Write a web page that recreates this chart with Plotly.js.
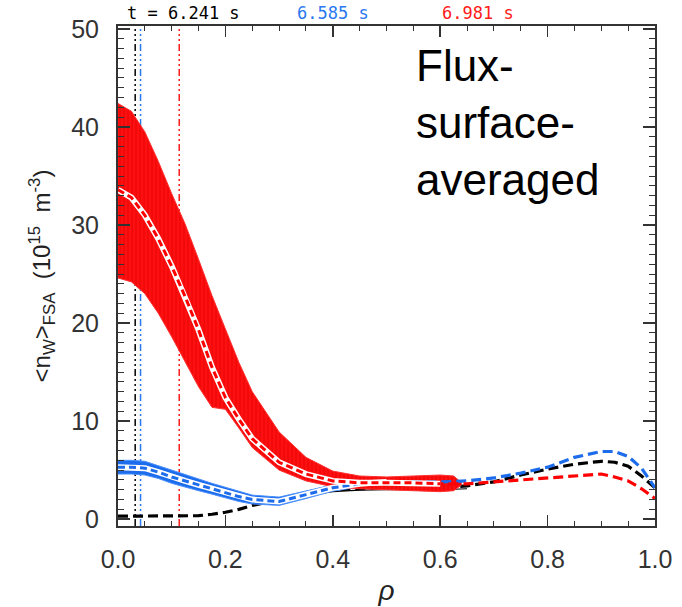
<!DOCTYPE html>
<html>
<head>
<meta charset="utf-8">
<script src="https://cdn.plot.ly/plotly-3.0.1.min.js"></script>
<style>html,body{margin:0;padding:0;background:#fff;}#chart{width:682px;height:607px;}</style>
</head>
<body>
<div id="chart"></div>
<script>
// ---- data ----
const rho = [0, 0.025, 0.05, 0.075, 0.1, 0.125, 0.15, 0.175, 0.2, 0.225, 0.25, 0.3, 0.35, 0.4, 0.45, 0.5, 0.55, 0.6, 0.65, 0.7, 0.75, 0.8, 0.85, 0.9, 0.925, 0.95, 0.975, 1.0];
const redMean   = [33.6, 32.8, 31.0, 28.6, 25.8, 22.7, 19.3, 15.5, 12.4, 10.2, 8.2, 5.8, 4.6, 3.9, 3.7, 3.7, 3.7, 3.6, 3.6, 3.8, 4.0, 4.2, 4.4, 4.6, 4.3, 3.9, 3.1, 2.1];
const blueMean  = [5.3, 5.3, 5.2, 4.8, 4.3, 3.9, 3.5, 3.1, 2.7, 2.3, 2.0, 1.8, 2.5, 3.2, 3.6, 3.8, 3.8, 3.8, 3.9, 4.2, 4.7, 5.3, 6.3, 6.9, 6.9, 6.4, 5.2, 3.2];
const blackMean = [0.3, 0.3, 0.3, 0.3, 0.3, 0.3, 0.35, 0.5, 0.7, 1.0, 1.4, 2.0, 2.6, 3.0, 3.1, 3.2, 3.2, 3.2, 3.4, 3.8, 4.5, 5.1, 5.6, 5.9, 5.8, 5.4, 4.4, 3.2];

const rhoRedBand = [0, 0.025, 0.05, 0.075, 0.1, 0.125, 0.15, 0.175, 0.2, 0.225, 0.25, 0.3, 0.35, 0.4, 0.45, 0.5, 0.55, 0.6, 0.625, 0.64];
const redUpper   = [42.4, 41.6, 39.5, 36.5, 33.2, 30.1, 26.5, 22.8, 19.4, 16.0, 13.0, 8.9, 6.3, 4.9, 4.4, 4.3, 4.4, 4.5, 4.4, 3.7];
const redLower   = [24.6, 24.2, 23.0, 21.0, 18.6, 16.0, 13.5, 11.4, 11.2, 9.3, 7.3, 5.0, 3.9, 3.3, 3.1, 3.0, 2.9, 2.8, 2.9, 3.5];

const rhoBlueBand = [0, 0.025, 0.05, 0.075, 0.1, 0.125, 0.15, 0.175, 0.2, 0.225, 0.25, 0.3, 0.35, 0.4, 0.45, 0.5];
const blueUpper   = [6.0, 6.0, 5.9, 5.45, 4.95, 4.5, 4.1, 3.65, 3.25, 2.85, 2.45, 2.25, 2.85, 3.5, 3.85, 4.0];
const blueLower   = [4.6, 4.6, 4.5, 4.15, 3.65, 3.25, 2.9, 2.55, 2.15, 1.8, 1.55, 1.4, 2.1, 2.85, 3.3, 3.55];

const rhoBlackBand = [0.3, 0.35, 0.4, 0.45, 0.5, 0.55, 0.6, 0.65];
const blackLower   = [1.8, 2.4, 2.8, 2.95, 3.0, 3.0, 3.0, 3.1];

const timeLabels = ['t = 6.241 s', '6.585 s', '6.981 s'];
const timeRho    = [0.032, 0.042, 0.114];
const timeColors = ['#000000', '#2a78f0', '#ff1a1a'];
const timeLabelX = [0.013, 0.33, 0.6];

const yTicks = [0, 10, 20, 30, 40, 50];
const xTicks = [0, 0.2, 0.4, 0.6, 0.8, 1.0];
const xTickText = ['0.0', '0.2', '0.4', '0.6', '0.8', '1.0'];

const BLUE = '#1c6cec', RED = '#ff0000';
const DASH = '10px,5px';
const DASH_IN = '7px,4px';

function inBand(xs, ys, xmax) {
  const ox = [], oy = [];
  for (let i = 0; i < xs.length; i++) if (xs[i] <= xmax) { ox.push(xs[i]); oy.push(ys[i]); }
  return [ox, oy];
}
const [rBx, rBy] = inBand(rho, redMean, rhoRedBand[rhoRedBand.length - 1]);
const [bBx, bBy] = inBand(rho, blueMean, rhoBlueBand[rhoBlueBand.length - 1]);

const base = {type: 'scatter', mode: 'lines', hoverinfo: 'skip', showlegend: false};
const traces = [
  Object.assign({}, base, {x: rhoBlackBand, y: blackLower, line: {color: '#000', width: 1.2}}),
  Object.assign({}, base, {x: rho, y: blackMean, line: {color: '#000', width: 3.2, dash: DASH}}),
  Object.assign({}, base, {x: rhoBlueBand, y: blueLower, line: {color: '#4a90ff', width: 1}}),
  Object.assign({}, base, {x: rhoBlueBand, y: blueUpper, fill: 'tonexty', fillcolor: BLUE, line: {color: '#4a90ff', width: 1}}),
  Object.assign({}, base, {x: rhoRedBand, y: redLower, line: {color: '#ff3030', width: 1}}),
  Object.assign({}, base, {x: rhoRedBand, y: redUpper, fill: 'tonexty', fillcolor: RED,
    fillpattern: {shape: '|', bgcolor: '#ff1010', fgcolor: '#e00000', size: 4, solidity: 0.2},
    line: {color: '#ff3030', width: 1}}),
  Object.assign({}, base, {x: rho, y: blueMean, line: {color: BLUE, width: 3.2, dash: DASH}}),
  Object.assign({}, base, {x: bBx, y: bBy, line: {color: '#ffffff', width: 6}}),
  Object.assign({}, base, {x: bBx, y: bBy, line: {color: BLUE, width: 3, dash: DASH_IN}}),
  Object.assign({}, base, {x: rho, y: redMean, line: {color: RED, width: 3.2, dash: DASH}}),
  Object.assign({}, base, {x: rBx, y: rBy, line: {color: '#ffffff', width: 6}}),
  Object.assign({}, base, {x: rBx, y: rBy, line: {color: RED, width: 3, dash: DASH_IN}})
];

const shapes = timeRho.map((r, i) => ({
  type: 'line', xref: 'x', yref: 'paper', x0: r, x1: r, y0: 0, y1: 1, layer: 'below',
  line: {color: timeColors[i], width: 1.5, dash: '7px,3px,2px,3px,2px,3px,2px,3px'}
}));

const annotations = timeLabels.map((t, i) => ({
  xref: 'paper', yref: 'paper', x: timeLabelX[i], y: 1.027, xanchor: 'left', yanchor: 'middle',
  showarrow: false, text: t, font: {family: 'DejaVu Sans Mono', size: 17, color: timeColors[i]}
}));
annotations.push({
  xref: 'paper', yref: 'paper', x: 0.552, y: 0.975, xanchor: 'left', yanchor: 'top', align: 'left',
  showarrow: false, text: 'Flux-<br>surface-<br>averaged',
  font: {family: 'Liberation Sans', size: 44, color: '#000'}
});

const axisCommon = {
  showgrid: false, zeroline: false, showline: true, linecolor: '#333', linewidth: 2,
  mirror: 'allticks', ticks: 'inside', tickcolor: '#333', tickwidth: 1.5,
  tickfont: {family: 'Liberation Sans', size: 25, color: '#333'}
};

const layout = {
  width: 682, height: 607,
  margin: {l: 118, r: 27, t: 26, b: 81},
  paper_bgcolor: '#fff', plot_bgcolor: '#fff',
  xaxis: Object.assign({}, axisCommon, {
    range: [0, 1], tickmode: 'array', tickvals: xTicks, ticktext: xTickText, ticklen: 11,
    minor: {dtick: 0.05, tick0: 0, ticks: 'inside', ticklen: 5, tickcolor: '#333', tickwidth: 1},
    ticklabelstandoff: 10,
    title: {text: '<i>ρ</i>', font: {family: 'Liberation Sans', size: 28, color: '#222'}, standoff: 8}
  }),
  yaxis: Object.assign({}, axisCommon, {
    range: [-0.7, 50.3], tickmode: 'array', tickvals: yTicks, ticklen: 12,
    minor: {dtick: 1, tick0: 0, ticks: 'inside', ticklen: 6, tickcolor: '#333', tickwidth: 1},
    ticklabelstandoff: 12,
    title: {text: '&lt;n<sub>W</sub>&gt;<sub>FSA</sub>&nbsp;&nbsp;(10<sup>15</sup>&nbsp;&nbsp;m<sup>-3</sup>)',
            font: {family: 'Liberation Sans', size: 24, color: '#222'}, standoff: 14}
  }),
  shapes: shapes,
  annotations: annotations
};

Plotly.newPlot('chart', traces, layout, {staticPlot: true, displayModeBar: false});
</script>
</body>
</html>
